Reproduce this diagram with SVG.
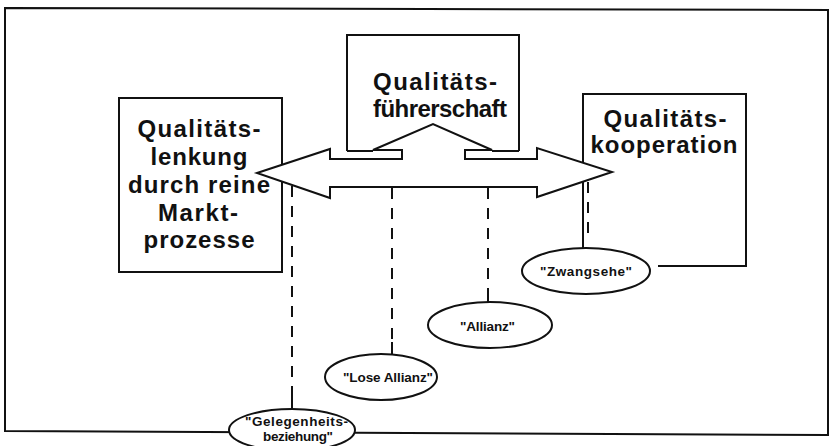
<svg xmlns="http://www.w3.org/2000/svg" width="831" height="446" viewBox="0 0 831 446">
<defs>
<style>
.ln{fill:none;stroke:#111;stroke-width:2;stroke-linejoin:miter}
.bx{fill:#fff;stroke:#111;stroke-width:2}
.ds{fill:none;stroke:#111;stroke-width:2;stroke-dasharray:11 9}
.el{fill:#fff;stroke:#111;stroke-width:2}
.big{font-family:"Liberation Sans",Arial,sans-serif;font-weight:bold;font-size:24px;fill:#111}
.sm{font-family:"Liberation Sans",Arial,sans-serif;font-weight:bold;font-size:13.5px;fill:#111}
</style>
</defs>
<rect width="831" height="446" fill="#fff"/>
<path id="frame" class="ln" stroke-width="2.5" d="M5,8 L828,10 L828,435 L5,431 Z"/>

<g id="box-left">
<rect class="bx" x="119" y="98" width="163" height="174"/>
</g>
<g id="box-right">
<path class="ln" d="M583,248 V94 H746 V266 H658"/>
</g>
<g id="box-top">
<path class="bx" d="M347,151 V35 H519 V151"/>
<path class="ln" d="M347,151 H373 M492,151 H519"/>
</g>

<g id="connectors">
<polygon class="bx" points="257,173 330,149 330,159 402,159 402,150 373,150 433,124 492,150 465,150 465,159 537,159 537,148 612,172 537,197 537,187 330,187 330,198"/>
<path class="ln" stroke-width="4" d="M373,150 H402 M465,150 H492"/>
<path class="ds" d="M292,186 V392"/>
<path class="ln" d="M292,392 V409"/>
<path class="ds" d="M392,188 V342"/>
<path class="ln" d="M392,342 V355"/>
<path class="ds" d="M488,188 V290"/>
<path class="ln" d="M488,290 V302"/>
<path class="ds" d="M588,182 V236"/>
</g>

<g id="text-left">
<text class="big" text-anchor="middle" x="199" y="137" textLength="123" lengthAdjust="spacing">Qualitäts-</text>
<text class="big" text-anchor="middle" x="199" y="165" textLength="97" lengthAdjust="spacing">lenkung</text>
<text class="big" text-anchor="middle" x="199" y="193" textLength="142" lengthAdjust="spacing">durch reine</text>
<text class="big" text-anchor="middle" x="198" y="221" textLength="80" lengthAdjust="spacing">Markt-</text>
<text class="big" text-anchor="middle" x="199" y="248" textLength="111" lengthAdjust="spacing">prozesse</text>
</g>
<g id="text-top">
<text class="big" x="373" y="90" textLength="124" lengthAdjust="spacing">Qualitäts-</text>
<text class="big" x="373" y="117" textLength="134" lengthAdjust="spacing">führerschaft</text>
</g>
<g id="text-right">
<text class="big" text-anchor="middle" x="665" y="127" textLength="123" lengthAdjust="spacing">Qualitäts-</text>
<text class="big" text-anchor="middle" x="664" y="153" textLength="147" lengthAdjust="spacing">kooperation</text>
</g>

<g id="node-zwangsehe">
<ellipse class="el" cx="586" cy="271" rx="64" ry="23"/>
<text class="sm" x="540" y="276" textLength="92" lengthAdjust="spacing">"Zwangsehe"</text>
</g>
<g id="node-allianz">
<ellipse class="el" cx="490" cy="325" rx="62" ry="23"/>
<text class="sm" x="460" y="331" textLength="55" lengthAdjust="spacing">"Allianz"</text>
</g>
<g id="node-lose-allianz">
<ellipse class="el" cx="381" cy="377" rx="56" ry="23"/>
<text class="sm" x="343" y="382" textLength="90" lengthAdjust="spacing">"Lose Allianz"</text>
</g>
<g id="node-gelegenheit">
<ellipse class="el" cx="292" cy="430" rx="63" ry="21"/>
<text class="sm" x="245" y="426" textLength="103" lengthAdjust="spacing">"Gelegenheits-</text>
<text class="sm" x="263" y="441" textLength="70" lengthAdjust="spacing">beziehung"</text>
</g>
</svg>
